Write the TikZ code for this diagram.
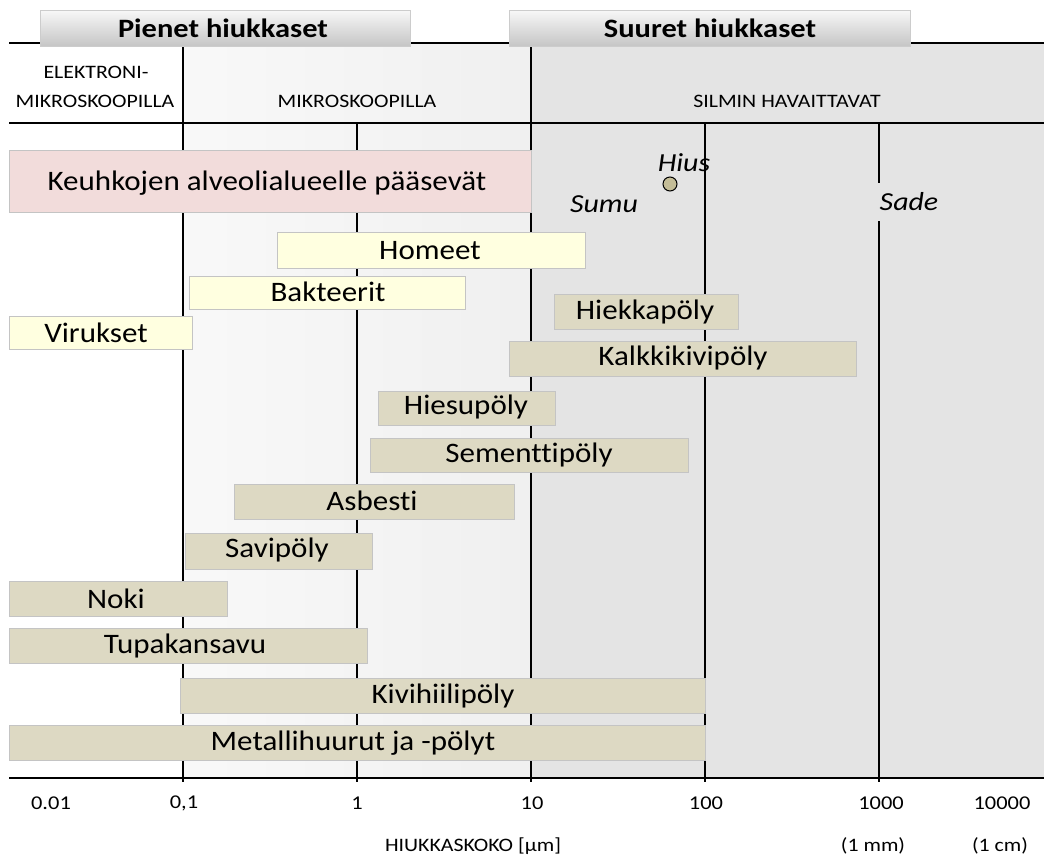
\documentclass[tikz,border=0pt]{standalone}
\usepackage{fontspec}
\setmainfont{Carlito}[FakeStretch=1.15,Ligatures=NoCommon]
\newfontfamily\palkkifont{Carlito}[FakeStretch=1.1,Ligatures=NoCommon]
\definecolor{taust}{HTML}{E4E4E4}
\definecolor{pinkki}{HTML}{F2DCDB}
\definecolor{keltainen}{HTML}{FFFFE0}
\definecolor{hiekka}{HTML}{DDD9C3}
\definecolor{reuna}{HTML}{C4C4C4}
\definecolor{hiussi}{HTML}{C4BD97}
\tikzset{
  viiva/.style={line width=1.2pt,black},
  pylvas/.style={draw=reuna,line width=0.8pt},
  nimi/.style={inner sep=0pt,font=\palkkifont\fontsize{28.2}{32}\selectfont},
  pieni/.style={inner sep=0pt,font=\fontsize{19}{22}\selectfont},
  luku/.style={inner sep=0pt,font=\fontsize{19.5}{22}\selectfont},
  kursiivi/.style={inner sep=2pt,font=\fontsize{26}{30}\selectfont\itshape},
  otsikko/.style={inner sep=0pt,font=\fontsize{26.5}{30}\selectfont\bfseries}
}
\begin{document}
\begin{tikzpicture}[>=stealth,x=1pt,y=-1pt]
	\def\ala{778} % x-akselin korkeus
	\useasboundingbox (0,0) rectangle (1044,857);
	\fill[white] (0,0) rectangle (1044,857);
	% taustat
	\shade[left color=gray!5,right color=gray!12] (183,43) rectangle (531,\ala);
	\fill[taust] (531,43) rectangle (1044,\ala);
	% vaakaviivat
	\draw[viiva] (9,43) -- (1044,43);
	\draw[viiva] (9,123) -- (1044,123);
	\draw[viiva] (9,\ala) -- (1044,\ala);
	\foreach \x/\y in {183/43,357/123,531/43,705/123,879/123}
		\draw[viiva] (\x,\y) -- (\x,\ala+4);
	% otsikot
	\shade[top color=gray!6,bottom color=gray!45,draw=gray!40] (40,10) rectangle (410,46);
	\shade[top color=gray!6,bottom color=gray!45,draw=gray!40] (509,10) rectangle (910,46);
	\node[otsikko] (pienet) at (223,28) {Pienet hiukkaset};
	\node[otsikko] (suuret) at (710,28) {Suuret hiukkaset};
	\node[pieni] (elektroni) at (96,72) {ELEKTRONI-};
	\node[pieni] (emikro) at (95,101) {MIKROSKOOPILLA};
	\node[pieni] (mikro) at (357,101) {MIKROSKOOPILLA};
	\node[pieni] (silmin) at (787,101) {SILMIN HAVAITTAVAT};
	% hius, sumu ja sade
	\node[kursiivi] (hius) at (684,163) {Hius};
	\draw[fill=hiussi,line width=1pt] (670,184) circle (7);
	\node[kursiivi] (sumu) at (604,204) {Sumu};
	\node[kursiivi,fill=taust,inner ysep=10pt] (sade) at (909,202) {Sade};
	% pylvaat
	\draw[pylvas,fill=pinkki] (9,150) rectangle (531,212);
	\node[nimi] (keuhko) at (267,183) {Keuhkojen alveolialueelle pääsevät};
	\draw[pylvas,fill=keltainen] (277,232) rectangle (585,268);
	\node[nimi] (homeet) at (430,251) {Homeet};
	\draw[pylvas,fill=keltainen] (189,276) rectangle (465,309);
	\node[nimi] (bakteerit) at (328,292) {Bakteerit};
	\draw[pylvas,fill=keltainen] (9,316) rectangle (192,349);
	\node[nimi] (virukset) at (96,333) {Virukset};
	\draw[pylvas,fill=hiekka] (554,294) rectangle (738,329);
	\node[nimi] (hiekka) at (645,312) {Hiekkapöly};
	\draw[pylvas,fill=hiekka] (509,341) rectangle (856,376);
	\node[nimi] (kalkki) at (683,358) {Kalkkikivipöly};
	\draw[pylvas,fill=hiekka] (378,391) rectangle (555,425);
	\node[nimi] (hiesu) at (466,407) {Hiesupöly};
	\draw[pylvas,fill=hiekka] (370,438) rectangle (688,472);
	\node[nimi] (sementti) at (529,455) {Sementtipöly};
	\draw[pylvas,fill=hiekka] (234,484) rectangle (514,519);
	\node[nimi] (asbesti) at (372,501) {Asbesti};
	\draw[pylvas,fill=hiekka] (185,533) rectangle (372,569);
	\node[nimi] (savi) at (277,550) {Savipöly};
	\draw[pylvas,fill=hiekka] (9,581) rectangle (227,616);
	\node[nimi] (noki) at (116,599) {Noki};
	\draw[pylvas,fill=hiekka] (9,628) rectangle (367,663);
	\node[nimi] (tupakka) at (185,646) {Tupakansavu};
	\draw[pylvas,fill=hiekka] (180,678) rectangle (705,713);
	\node[nimi] (kivihiili) at (443,696) {Kivihiilipöly};
	\draw[pylvas,fill=hiekka] (9,725) rectangle (705,760);
	\node[nimi] (metalli) at (353,743) {Metallihuurut ja -pölyt};
	% akselin luvut
	\node[luku] (l001) at (51,803) {0.01};
	\node[luku] (l01) at (184,803) {0,1};
	\node[luku] (l1) at (357,803) {1};
	\node[luku] (l10) at (532,803) {10};
	\node[luku] (l100) at (706,803) {100};
	\node[luku] (l1000) at (881,803) {1000};
	\node[luku] (l10000) at (1002,803) {10000};
	\node[pieni] (koko) at (473,846) {HIUKKASKOKO [µm]};
	\node[pieni] (mm) at (873,846) {(1 mm)};
	\node[pieni] (cm) at (1000,846) {(1 cm)};
\end{tikzpicture}
\end{document}
